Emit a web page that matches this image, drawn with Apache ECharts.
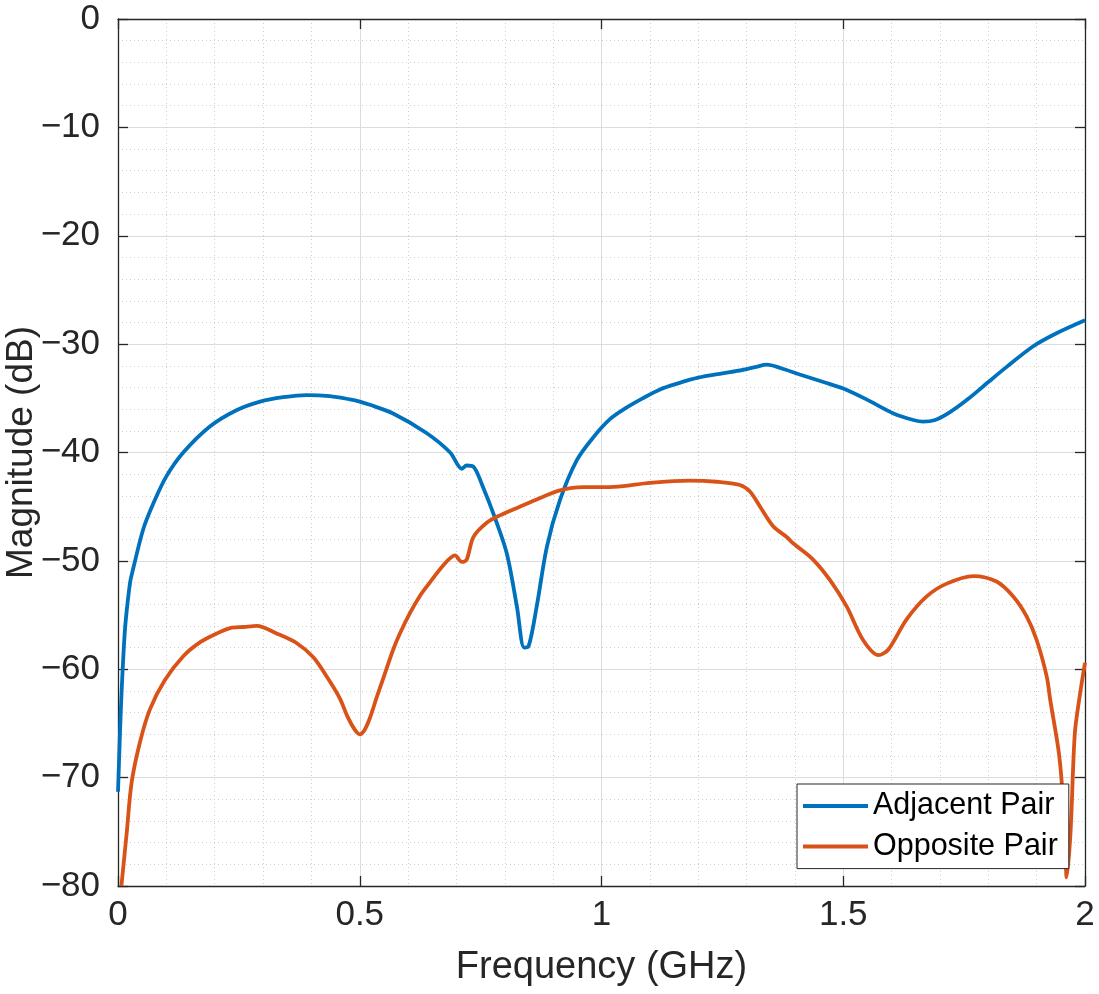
<!DOCTYPE html>
<html>
<head>
<meta charset="utf-8">
<script src="https://cdn.jsdelivr.net/npm/echarts@6/dist/echarts.min.js"></script>
<style>
html,body{margin:0;padding:0;background:#fff;}
#chart{width:1099px;height:994px;}
</style>
</head>
<body>
<div id="chart"></div>
<script>
// Frequency (GHz) and magnitude (dB)
var adjacentFreq = [0.0,0.001,0.004,0.007,0.012,0.016,0.025,0.031,0.052,0.073,0.1,0.135,0.19,0.245,0.294,0.342,0.39,0.438,0.48,0.5,0.521,0.569,0.638,0.687,0.711,0.721,0.735,0.755,0.776,0.804,0.825,0.840,0.849,0.866,0.887,0.914,0.949,0.983,1.018,1.05,1.085,1.12,1.16,1.2,1.25,1.29,1.32,1.342,1.37,1.41,1.459,1.5,1.548,1.604,1.645,1.665,1.69,1.72,1.76,1.8,1.838,1.893,1.941,2.0];
var adjacentMag = [-71.3,-70,-66,-62.5,-58,-55.5,-52,-50.8,-47.1,-44.7,-42.2,-40.0,-37.6,-36.1,-35.3,-34.9,-34.7,-34.8,-35.1,-35.3,-35.6,-36.4,-38.2,-40.0,-41.5,-41.2,-41.3,-43.2,-45.6,-49.3,-54.2,-58.0,-57.9,-54.2,-48.7,-44.4,-40.7,-38.6,-36.9,-35.9,-35.0,-34.2,-33.6,-33.1,-32.7,-32.4,-32.1,-31.9,-32.2,-32.8,-33.5,-34.1,-35.1,-36.4,-37.0,-37.15,-37.0,-36.3,-35.0,-33.5,-32.1,-30.2,-29.0,-27.8];
var oppositeFreq = [0.007,0.018,0.028,0.045,0.066,0.097,0.135,0.17,0.204,0.232,0.26,0.287,0.328,0.37,0.404,0.432,0.459,0.475,0.49,0.5,0.51,0.521,0.535,0.549,0.569,0.583,0.604,0.625,0.638,0.673,0.697,0.711,0.721,0.735,0.762,0.79,0.831,0.873,0.914,0.962,1.01,1.045,1.1,1.183,1.238,1.286,1.307,1.328,1.355,1.383,1.397,1.438,1.473,1.507,1.541,1.573,1.593,1.631,1.672,1.714,1.769,1.817,1.852,1.879,1.9,1.921,1.928,1.945,1.952,1.959,1.962,1.970,1.979,1.990,2.0];
var oppositeMag = [-80,-75.1,-70.5,-66.8,-63.7,-61.0,-58.8,-57.5,-56.7,-56.2,-56.1,-56.0,-56.7,-57.6,-58.9,-60.7,-62.7,-64.4,-65.6,-66.0,-65.6,-64.5,-62.6,-60.8,-58.2,-56.7,-54.8,-53.2,-52.4,-50.4,-49.5,-50.1,-49.9,-47.8,-46.5,-45.8,-45.0,-44.2,-43.5,-43.2,-43.2,-43.1,-42.8,-42.6,-42.7,-43.0,-43.6,-45.0,-46.8,-47.8,-48.4,-49.9,-51.8,-54.2,-57.3,-58.7,-58.2,-55.4,-53.3,-52.1,-51.4,-51.9,-53.3,-55.1,-57.3,-60.7,-62.8,-67.4,-70.5,-75.7,-79.2,-75.1,-65.9,-62.2,-59.4];
var seriesNames = ['Adjacent Pair','Opposite Pair'];
var xTicks = [0,0.5,1,1.5,2];
var yTicks = [-80,-70,-60,-50,-40,-30,-20,-10,0];

function pairs(xs, ys){ return xs.map(function(x,i){ return [x, ys[i]]; }); }

var FONT = 'Liberation Sans, Arial, Helvetica, sans-serif';
var AX = '#262626';
var chart = echarts.init(document.getElementById('chart'), null, {renderer:'canvas'});

function xAx(pos, labels){
  return {
    type:'value', position:pos, min:xTicks[0], max:xTicks[xTicks.length-1], interval:0.5,
    name: labels ? 'Frequency (GHz)' : '', nameLocation:'middle', nameGap:63,
    nameTextStyle:{fontFamily:FONT, fontSize:38, color:AX},
    axisLine:{show:true, onZero:false, lineStyle:{color:AX, width:1.3}},
    axisTick:{show:true, inside:true, length:10, lineStyle:{color:AX, width:1.3}},
    axisLabel:{show:labels, fontFamily:FONT, fontSize:35, color:AX, margin:12,
      formatter:function(v){ return String(v); }},
    splitLine:{show:labels, lineStyle:{color:'#dcdcdc', width:1}},
    minorTick:{show:false, splitNumber:5},
    minorSplitLine:{show:labels, lineStyle:{color:'#cfcfcf', width:1, type:[1,3]}}
  };
}
function yAx(pos, labels){
  return {
    type:'value', position:pos, min:yTicks[0], max:yTicks[yTicks.length-1], interval:10,
    name: labels ? 'Magnitude (dB)' : '', nameLocation:'middle', nameGap:78, nameMoveOverlap:false,
    nameTextStyle:{fontFamily:FONT, fontSize:37, color:AX},
    axisLine:{show:true, onZero:false, lineStyle:{color:AX, width:1.3}},
    axisTick:{show:true, inside:true, length:10, lineStyle:{color:AX, width:1.3}},
    axisLabel:{show:labels, fontFamily:FONT, fontSize:35, color:AX, margin:18,
      formatter:function(v){ return String(v).replace('-', '\u2212'); }},
    splitLine:{show:labels, lineStyle:{color:'#dcdcdc', width:1}},
    minorTick:{show:false, splitNumber:5},
    minorSplitLine:{show:labels, lineStyle:{color:'#cfcfcf', width:1, type:[1,3]}}
  };
}

chart.setOption({
  backgroundColor:'#ffffff',
  animation:false,
  grid:{left:118, right:14, top:19, bottom:108, containLabel:false, outerBoundsMode:'none'},
  xAxis:[xAx('bottom', true), xAx('top', false)],
  yAxis:[yAx('left', true), yAx('right', false)],
  legend:{
    orient:'vertical', left:797, top:784,
    backgroundColor:'#ffffff', borderColor:AX, borderWidth:1,
    padding:[4,11,4,6], itemGap:4.6, itemWidth:65, itemHeight:4, icon:'rect',
    textStyle:{fontFamily:FONT, fontSize:30.5, color:'#000', lineHeight:36},
    data:seriesNames
  },
  series:[
    {name:seriesNames[0], type:'line', xAxisIndex:0, yAxisIndex:0, showSymbol:false, symbol:'none',
     smooth:0.3, lineStyle:{color:'#0072BD', width:3.8}, itemStyle:{color:'#0072BD'},
     data:pairs(adjacentFreq, adjacentMag), clip:true},
    {name:seriesNames[1], type:'line', xAxisIndex:0, yAxisIndex:0, showSymbol:false, symbol:'none',
     smooth:0.3, lineStyle:{color:'#D95319', width:3.8}, itemStyle:{color:'#D95319'},
     data:pairs(oppositeFreq, oppositeMag), clip:true}
  ]
});
</script>
</body>
</html>
